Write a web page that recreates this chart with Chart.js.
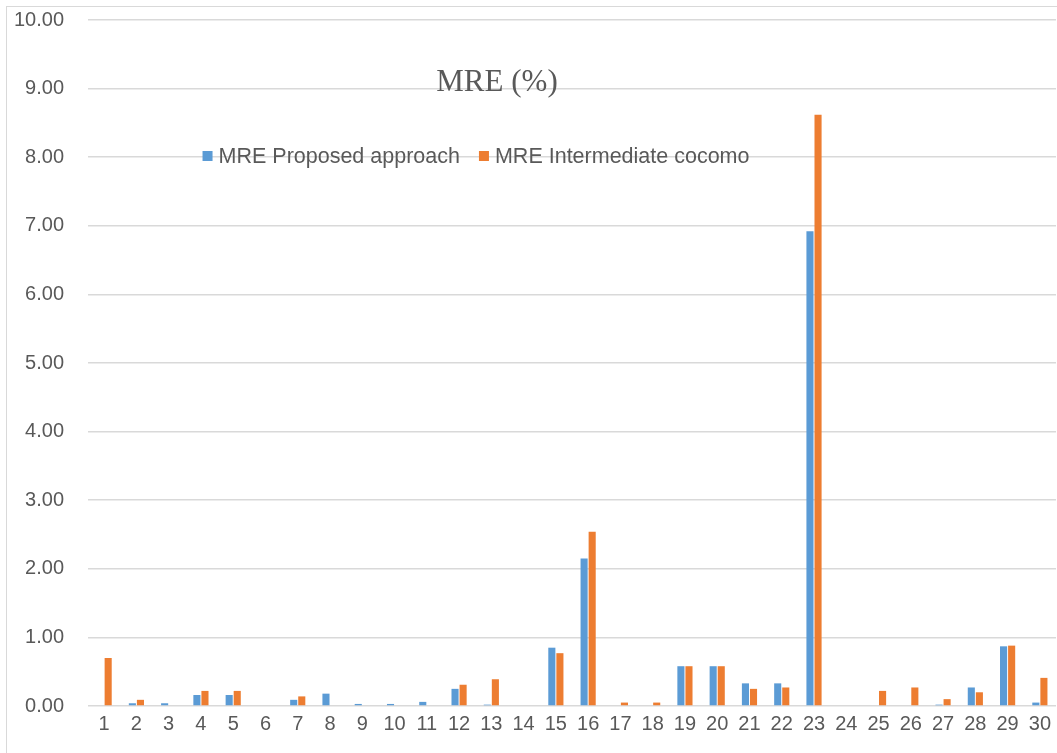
<!DOCTYPE html>
<html>
<head>
<meta charset="utf-8">
<title>MRE (%)</title>
<script src="https://cdn.jsdelivr.net/npm/chart.js@4/dist/chart.umd.min.js"></script>
<style>
  html, body { margin: 0; padding: 0; background: #fff; overflow: hidden; }
  #wrap { position: relative; width: 1057px; height: 753px; }
  #frame { position: absolute; left: 6px; top: 6px; width: 1100px; height: 800px; border: 1px solid #d9d9d9; pointer-events: none; }
</style>
</head>
<body>
<div id="wrap">
  <canvas id="mreChart" width="1057" height="753"></canvas>
  <div id="frame"></div>
</div>
<script>
const projects = ["1","2","3","4","5","6","7","8","9","10","11","12","13","14","15","16","17","18","19","20","21","22","23","24","25","26","27","28","29","30"];
const mreProposed = [0, 0.04, 0.04, 0.16, 0.16, 0, 0.09, 0.18, 0.03, 0.03, 0.06, 0.25, 0.02, 0, 0.85, 2.15, 0, 0, 0.58, 0.58, 0.33, 0.33, 6.92, 0, 0, 0, 0.02, 0.27, 0.87, 0.05];
const mreCocomo = [0.70, 0.09, 0, 0.22, 0.22, 0, 0.14, 0, 0, 0, 0, 0.31, 0.39, 0, 0.77, 2.54, 0.05, 0.05, 0.58, 0.58, 0.25, 0.27, 8.62, 0, 0.22, 0.27, 0.10, 0.20, 0.88, 0.41];
const yTicks = [0, 1, 2, 3, 4, 5, 6, 7, 8, 9, 10];
const chartTitle = "MRE (%)";

const blue = "#5b9bd5";
const orange = "#ed7d31";
const textGray = "#595959";

// title and legend sit inside the plot area in the original, so draw them by hand
const overlayText = {
  id: "overlayText",
  afterDraw(chart) {
    const ctx = chart.ctx;
    ctx.save();
    ctx.fillStyle = textGray;
    ctx.textBaseline = "middle";
    ctx.textAlign = "center";
    ctx.font = "31px 'Liberation Serif', 'Times New Roman', serif";
    ctx.fillText(chartTitle, 497, 83);

    ctx.font = "21.5px 'Liberation Sans', Arial, sans-serif";
    ctx.textAlign = "left";
    const items = chart.data.datasets.map((ds) => ({ label: ds.label, color: ds.backgroundColor }));
    const box = 10, gapBox = 6, gapItem = 19;
    let total = 0;
    items.forEach((it, i) => {
      total += box + gapBox + ctx.measureText(it.label).width + (i < items.length - 1 ? gapItem : 0);
    });
    let x = 476 - total / 2;
    const y = 156;
    items.forEach((it) => {
      ctx.fillStyle = it.color;
      ctx.fillRect(x, y - box / 2, box, box);
      x += box + gapBox;
      ctx.fillStyle = textGray;
      ctx.fillText(it.label, x, y + 1);
      x += ctx.measureText(it.label).width + gapItem;
    });
    ctx.restore();
  }
};

const ctx = document.getElementById("mreChart");

new Chart(ctx, {
  type: "bar",
  data: {
    labels: projects,
    datasets: [
      {
        label: "MRE Proposed approach",
        data: mreProposed,
        backgroundColor: blue,
        categoryPercentage: 0.5,
        barPercentage: 0.88,
      },
      {
        label: "MRE Intermediate cocomo",
        data: mreCocomo,
        backgroundColor: orange,
        categoryPercentage: 0.5,
        barPercentage: 0.88,
      },
    ],
  },
  options: {
    responsive: false,
    animation: false,
    layout: { padding: { left: 0, right: 0, top: 20, bottom: 0 } },
    plugins: {
      legend: { display: false },
      title: { display: false },
      tooltip: { enabled: false },
    },
    scales: {
      x: {
        grid: { display: false, drawTicks: false },
        border: { display: false },
        ticks: {
          color: textGray,
          font: { family: "'Liberation Sans', Arial, sans-serif", size: 20 },
          padding: 6,
          maxRotation: 0,
          autoSkip: false,
        },
        afterFit: (scale) => { scale.height = 47; },
      },
      y: {
        min: 0,
        max: 10,
        afterBuildTicks: (scale) => { scale.ticks = yTicks.map((v) => ({ value: v })); },
        grid: { color: "#d9d9d9", lineWidth: 1.5, drawTicks: false },
        border: { display: false },
        ticks: {
          color: textGray,
          font: { family: "'Liberation Sans', Arial, sans-serif", size: 20 },
          padding: 24,
          callback: (v) => Number(v).toFixed(2),
        },
        afterFit: (scale) => {
          scale.width = 88;
          // the tick padding would otherwise push the plot top down
          scale.paddingTop = 0;
          scale.paddingBottom = 0;
        },
      },
    },
  },
  plugins: [overlayText],
});
</script>
</body>
</html>
